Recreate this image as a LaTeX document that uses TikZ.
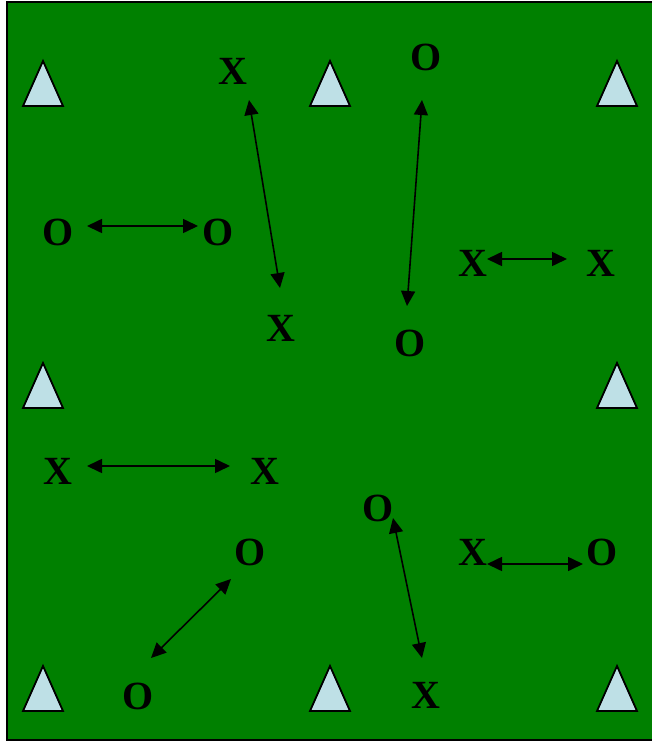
\documentclass[tikz,border=0pt]{standalone}
\usepackage{fontspec}
\setmainfont{Liberation Serif}
\usetikzlibrary{arrows.meta}
\definecolor{pitch}{HTML}{008000}
\definecolor{conefill}{RGB}{190,224,230}

\begin{document}
\begin{tikzpicture}[
  x=1pt, y=-1pt,
  pl/.style={inner sep=0pt, text=black, font=\bfseries\fontsize{40}{40}\selectfont},
  cone/.style={draw=black, fill=conefill, line width=1.8pt, line join=miter},
  ar/.style={{Triangle[length=15pt,width=14pt]}-{Triangle[length=15pt,width=14pt]}, line width=1.6pt, black},
]
\useasboundingbox (0,0) rectangle (651,741);
% Pitch
\draw[fill=pitch, line width=2pt] (7,2) rectangle (654,740);

% Cones
\draw[cone] (43,61) -- ++(20,45) -- ++(-40,0) -- cycle;
\draw[cone] (330,61) -- ++(20,45) -- ++(-40,0) -- cycle;
\draw[cone] (617,61) -- ++(20,45) -- ++(-40,0) -- cycle;
\draw[cone] (43,363) -- ++(20,45) -- ++(-40,0) -- cycle;
\draw[cone] (617,363) -- ++(20,45) -- ++(-40,0) -- cycle;
\draw[cone] (43,666) -- ++(20,45) -- ++(-40,0) -- cycle;
\draw[cone] (330,666) -- ++(20,45) -- ++(-40,0) -- cycle;
\draw[cone] (617,666) -- ++(20,45) -- ++(-40,0) -- cycle;

% Players, top half
\node[pl] (x1) at (232.5,71.5) {X};
\node[pl] (x2) at (281,328) {X};
\node[pl] (o1) at (426,57) {O};
\node[pl] (o2) at (410.5,343) {O};
\node[pl] (o3) at (58,232) {O};
\node[pl] (o4) at (218,232) {O};
\node[pl] (x3) at (473,263.5) {X};
\node[pl] (x4) at (601,263.5) {X};

% Players, bottom half
\node[pl] (x5) at (57.5,471) {X};
\node[pl] (x6) at (265,471) {X};
\node[pl] (o5) at (378,508) {O};
\node[pl] (x7) at (425.5,695) {X};
\node[pl] (o6) at (250.5,552) {O};
\node[pl] (o7) at (138,696) {O};
\node[pl] (x8) at (473,552) {X};
\node[pl] (o8) at (602,552) {O};

% Passing lines
\draw[ar] ([xshift=16.5pt,yshift=-28.5pt]x1.center) -- ([xshift=-1pt,yshift=40pt]x2.center);
\draw[ar] ([xshift=-4pt,yshift=-43pt]o1.center) -- ([xshift=-3.5pt,yshift=37pt]o2.center);
\draw[ar] ([xshift=29pt,yshift=6pt]o3.center) -- ([xshift=-20pt,yshift=6pt]o4.center);
\draw[ar] ([xshift=14pt,yshift=4.5pt]x3.center) -- ([xshift=-34pt,yshift=4.5pt]x4.center);
\draw[ar] ([xshift=29.5pt,yshift=5pt]x5.center) -- ([xshift=-35pt,yshift=5pt]x6.center);
\draw[ar] ([xshift=15pt,yshift=-10pt]o5.center) -- ([xshift=-3.5pt,yshift=37pt]x7.center);
\draw[ar] ([xshift=-19.5pt,yshift=-27pt]o6.center) -- ([xshift=13pt,yshift=38pt]o7.center);
\draw[ar] ([xshift=14pt,yshift=-12pt]x8.center) -- ([xshift=-19pt,yshift=-12pt]o8.center);
\end{tikzpicture}
\end{document}
